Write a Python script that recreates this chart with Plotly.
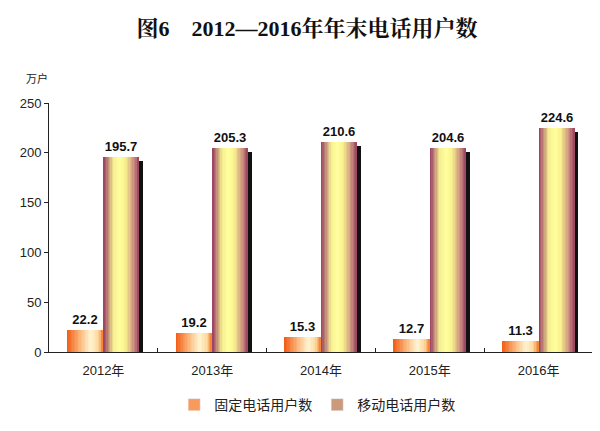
import plotly.graph_objects as go

years = ["2012年", "2013年", "2014年", "2015年", "2016年"]
fixed_users = [22.2, 19.2, 15.3, 12.7, 11.3]
mobile_users = [195.7, 205.3, 210.6, 204.6, 224.6]
y_ticks = [0, 50, 100, 150, 200, 250]

SANS = "Liberation Sans, Arial, Noto Sans CJK SC"

# gradient stops across the width of a bar (position, rgb)
fixed_stops = [(0.0, (240, 90, 20)), (0.35, (251, 180, 119)), (0.65, (255, 244, 210)),
               (0.85, (253, 217, 160)), (1.0, (244, 122, 40))]
mobile_stops = [(0.0, (152, 58, 99)), (0.28, (245, 238, 144)), (0.45, (255, 255, 158)),
                (0.62, (248, 240, 140)), (0.85, (201, 140, 128)), (1.0, (154, 63, 95))]


def mix(stops, t):
    for (p0, c0), (p1, c1) in zip(stops, stops[1:]):
        if p0 <= t <= p1:
            k = (t - p0) / (p1 - p0)
            return "rgb(%d,%d,%d)" % tuple(round(a + (b - a) * k) for a, b in zip(c0, c1))
    return "rgb(%d,%d,%d)" % stops[-1][1]


def gradient_bar(fig, name, values, stops, offset, width, legend_t, n=26):
    # no gradient fill for bars in plotly, so stack thin strips side by side
    step = width / n
    for i in range(n):
        t = (i + 0.5) / n
        fig.add_trace(go.Bar(
            x=years, y=values, offset=offset + i * step, width=step * 1.6 if i < n - 1 else step,
            marker=dict(color=mix(stops, t), line=dict(width=0)),
            name=name, legendgroup=name, showlegend=False, hoverinfo="skip"))
    # legend entry
    fig.add_trace(go.Bar(x=[years[0]], y=[0], width=0, marker=dict(color=mix(stops, legend_t)),
                         name=name, legendgroup=name, showlegend=True, hoverinfo="skip"))
    # value labels
    fig.add_trace(go.Bar(
        x=years, y=values, offset=offset, width=width,
        marker=dict(color="rgba(0,0,0,0)", line=dict(width=0)),
        text=[f"{v:.1f}" for v in values], textposition="outside",
        textfont=dict(family=SANS, size=13, color="#111", weight="bold"),
        cliponaxis=False, showlegend=False, hoverinfo="skip"))


fig = go.Figure()

# shadow behind the mobile bars
fig.add_trace(go.Bar(x=years, y=mobile_users, base=-4, offset=0.03, width=0.335,
                     marker=dict(color="#111", line=dict(width=0)),
                     showlegend=False, hoverinfo="skip"))

gradient_bar(fig, "固定电话用户数", fixed_users, fixed_stops, -0.337, 0.337, 0.25)
gradient_bar(fig, "移动电话用户数", mobile_users, mobile_stops, 0.0, 0.33, 0.15)

fig.update_layout(
    width=600, height=431,
    margin=dict(l=35, r=15, t=95, b=87),
    paper_bgcolor="white", plot_bgcolor="white",
    barmode="overlay",
    title=dict(text="图6　2012—2016年年末电话用户数", x=299 / 600, xanchor="center",
               y=1 - 20 / 431, yanchor="middle",
               font=dict(family="Liberation Serif, Noto Serif CJK SC, Noto Sans CJK SC",
                         size=22, color="#111", weight="bold")),
    xaxis=dict(showline=True, linecolor="#222", linewidth=1, ticks="inside", ticklen=4,
               tickcolor="#222", tickson="boundaries", showgrid=False, ticklabelstandoff=6,
               tickfont=dict(family=SANS, size=13, color="#222")),
    yaxis=dict(range=[0, 250], tickvals=y_ticks, showline=True, linecolor="#222", linewidth=1,
               ticks="outside", ticklen=4, tickcolor="#222", showgrid=False, zeroline=False,
               tickfont=dict(family=SANS, size=13, color="#222")),
    legend=dict(orientation="h", x=0.493, xanchor="center", y=-0.213, yanchor="middle",
                font=dict(family="Noto Sans CJK SC", size=14, color="#222"),
                itemwidth=30, traceorder="normal"),
    annotations=[dict(text="万户", xref="paper", yref="paper", x=-0.022, y=1 + 25 / 249,
                      xanchor="center", yanchor="middle", showarrow=False,
                      font=dict(family="Noto Sans CJK SC", size=11, color="#222"))],
    bargap=0, hovermode=False,
)

fig.write_html("out.html")
